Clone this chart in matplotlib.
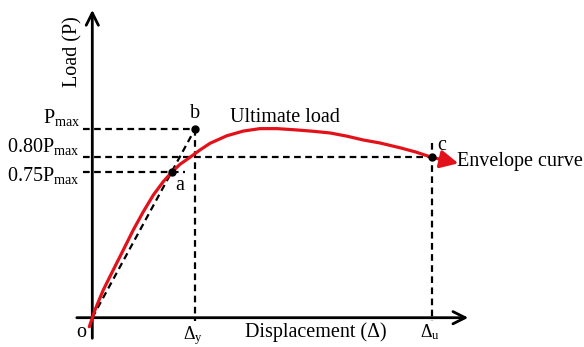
import matplotlib
matplotlib.use("Agg")
import matplotlib.pyplot as plt

plt.rcParams['font.family'] = ['Liberation Serif', 'DejaVu Serif']
plt.rcParams['mathtext.fontset'] = 'custom'
plt.rcParams['mathtext.rm'] = 'Liberation Serif'
plt.rcParams['mathtext.it'] = 'Liberation Serif:italic'

# key values (displacement normalised to delta_y, load normalised to P_max)
p_max = 1.0
p_80 = 0.850
p_75 = 0.771
delta_y = 1.0
delta_u = 3.305

pt_a = (0.773, 0.771)
pt_b = (delta_y, p_max)
pt_c = (delta_u, p_80)

# envelope curve
curve_x = [-0.029, 0.026, 0.107, 0.204, 0.302, 0.399, 0.497, 0.594, 0.691, 0.773,
           0.854, 0.951, 1.049, 1.146, 1.309, 1.470, 1.632, 1.800, 1.990, 2.150,
           2.315, 2.480, 2.636, 2.800, 3.000, 3.150, 3.305]
curve_y = [-0.048, 0.041, 0.147, 0.253, 0.359, 0.465, 0.562, 0.650, 0.721, 0.771,
           0.813, 0.850, 0.889, 0.924, 0.964, 0.989, 1.002, 1.002, 0.995, 0.988,
           0.979, 0.962, 0.942, 0.926, 0.900, 0.878, 0.850]
arrow_tip = (3.564, 0.818)

red = '#e3121a'

fig = plt.figure(figsize=(5.84, 3.47), dpi=100)
ax = fig.add_axes([0, 0, 1, 1])

# pixel mapping of the original
ox, oy, sx, sy = 92.3, 317.7, 102.7, 188.7
ax.set_xlim(-ox / sx, (584 - ox) / sx)
ax.set_ylim(-(347 - oy) / sy, oy / sy)
ax.axis('off')

# axes with arrows
ax.annotate('', xy=(3.661, 0), xytext=(-0.151, 0),
            arrowprops=dict(arrowstyle='->', lw=2.0, color='black',
                            mutation_scale=22, shrinkA=0, shrinkB=0))
ax.annotate('', xy=(0, 1.631), xytext=(0, -0.109),
            arrowprops=dict(arrowstyle='->', lw=2.0, color='black',
                            mutation_scale=22, shrinkA=0, shrinkB=0))

dash = dict(color='black', lw=1.6, ls=(0, (3.0, 2.0)))
ax.plot([-0.09, pt_b[0]], [p_max, p_max], **dash)
ax.plot([-0.09, pt_c[0]], [p_80, p_80], **dash)
ax.plot([-0.09, 0.903], [p_75, p_75], **dash)
ax.plot([delta_y, delta_y], [p_max, -0.02], **dash)
ax.plot([delta_u, delta_u], [0.924, -0.02], **dash)
ax.plot([0, pt_b[0]], [0, pt_b[1]], **dash)

# envelope curve
ax.plot(curve_x, curve_y, color=red, lw=2.3, solid_capstyle='round',
        solid_joinstyle='round', zorder=3)
ax.annotate('', xy=arrow_tip, xytext=pt_c,
            arrowprops=dict(arrowstyle='-|>', lw=2.3, color=red,
                            mutation_scale=27, shrinkA=0, shrinkB=0), zorder=3)

for p in (pt_a, pt_b, pt_c):
    ax.plot(*p, 'o', color='black', ms=5, zorder=4)

fs = 14.5
ax.text(-0.12, 1.033, r'P$_{\mathrm{max}}$', ha='right', va='baseline', fontsize=fs)
ax.text(-0.12, 0.880, r'0.80P$_{\mathrm{max}}$', ha='right', va='baseline', fontsize=fs)
ax.text(-0.12, 0.724, r'0.75P$_{\mathrm{max}}$', ha='right', va='baseline', fontsize=fs)

ax.text(-0.188, 1.408, 'Load (P)', rotation=90, ha='center', va='center', fontsize=fs)
ax.text(1.486, -0.074, 'Displacement (\u0394)', ha='left', va='center', fontsize=fs)
ax.text(0.98, -0.112, r'$\Delta_{\mathrm{y}}$', ha='center', va='baseline', fontsize=13)
ax.text(3.29, -0.106, r'$\Delta_{\mathrm{u}}$', ha='center', va='baseline', fontsize=13)
ax.text(-0.103, -0.079, 'o', ha='center', va='center', fontsize=fs)

ax.text(1.0, 1.084, 'b', ha='center', va='center', fontsize=fs)
ax.text(0.854, 0.703, 'a', ha='center', va='center', fontsize=fs)
ax.text(3.402, 0.915, 'c', ha='center', va='center', fontsize=fs)
ax.text(1.341, 1.039, 'Ultimate load', ha='left', va='baseline', fontsize=fs)
ax.text(3.551, 0.827, 'Envelope curve', ha='left', va='center', fontsize=fs)

fig.savefig('out.png', dpi=100)
